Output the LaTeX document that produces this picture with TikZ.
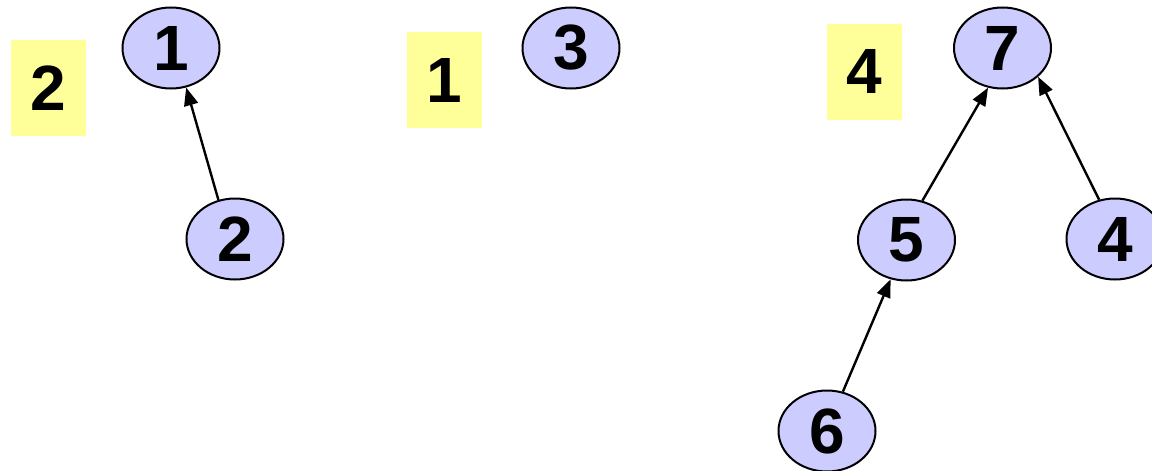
\documentclass[tikz,border=0pt]{standalone}
\usepackage{fontspec}
\setmainfont{Liberation Sans}
\usetikzlibrary{shapes.geometric,arrows.meta}
\newcommand{\Unit}{0.5pt}
\newcommand{\Rim}{1pt}
\definecolor{vertex}{HTML}{CCCCFF}
\definecolor{tag}{HTML}{FFFF99}
\definecolor{ink}{HTML}{000000}

\tikzset{
  vtx/.style={ellipse, fill=vertex, draw=ink, line width=\Rim, inner sep=0pt,
    minimum width=48.5pt, minimum height=40.5pt, font=\fontsize{32}{32}\selectfont\bfseries},
  rank/.style={rectangle, fill=tag, inner sep=0pt,
    minimum width=37.5pt, minimum height=48pt, font=\fontsize{32}{32}\selectfont\bfseries},
  up/.style={ink, line width=1.2pt, -{Triangle[length=9pt,width=7pt]}}
}

\begin{document}
\begin{tikzpicture}[x=\Unit,y=-\Unit]
  \useasboundingbox (0,0) rectangle (1152,471);

  % ---- first tree: 2 hangs under 1 --------------------------------------
  \node[rank] (r2) at (48.5,88) {2};
  \node[vtx] (n1) at (171,48) {1};
  \node[vtx] (n2) at (235,239) {2};
  \draw[up] (n2.113) -- (n1.-69);

  % ---- second tree: a lone root ------------------------------------------
  \node[rank] (r1) at (444.5,80) {1};
  \node[vtx] (n3) at (571,48) {3};

  % ---- third tree: 7 on top, 5 and 4 below, 6 under 5 --------------------
  \node[rank] (r4) at (864.5,71.5) {4};
  \node[vtx] (n7) at (1002.5,48) {7};
  \node[vtx] (n5) at (906.5,240) {5};
  \node[vtx] (n4) at (1115,239) {4};
  \node[vtx] (n6) at (827,431) {6};
  \draw[up] (n5.68) -- (n7.-110);
  \draw[up] (n4.112) -- (n7.-39);
  \draw[up] (n6.68) -- (n5.-112);

\end{tikzpicture}
\end{document}
